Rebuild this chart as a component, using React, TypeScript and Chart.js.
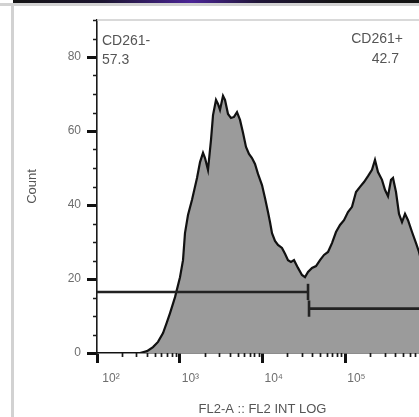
import React, { useEffect, useRef } from 'react';
import { Chart, registerables } from 'chart.js';

Chart.register(...registerables);

// FL2 intensity (x, log scale) and event counts (y)
const fl2Intensity = [
  100, 331, 402, 475, 546, 628, 702, 763, 877, 1007,
  1095, 1157, 1258, 1407, 1616, 1758, 1911, 2020, 2194, 2386,
  2524, 2742, 2899, 3065, 3333, 3523, 3830, 4163, 4525, 4920,
  5348, 5813, 6318, 6867, 7465, 8115, 8820, 9863, 10720, 11650,
  12320, 13030, 14160, 15390, 17200, 18710, 20340, 22090, 24040, 26850,
  30000, 32640, 35490, 39650, 44340, 49540, 55350, 61890, 69150, 77270,
  86440, 96560, 107900, 120700, 134900, 150700, 168500, 188300, 210400, 228700,
  248700, 278000, 302100, 328500, 357300, 377600, 410500, 446400, 485300, 527600,
  573500, 641200, 716500, 778700, 871000, 1000000,
];
const cellCounts = [
  0, 0, 0.5, 1.6, 3.0, 5.4, 8.4, 10.8, 15.1, 20.5,
  25.1, 32.4, 37.3, 41.4, 47.3, 51.6, 54.1, 52.7, 49.5, 57.6,
  64.3, 68.4, 67.3, 65.7, 69.5, 68.4, 64.6, 63.5, 63.8, 65.1,
  63.0, 59.5, 55.7, 53.8, 52.7, 51.1, 48.4, 45.4, 41.9, 38.1,
  35.4, 32.4, 30.3, 29.2, 28.4, 26.8, 25.1, 24.6, 25.1, 23.0,
  21.1, 20.5, 21.9, 23.0, 23.5, 25.1, 26.5, 27.3, 29.7, 32.7,
  34.6, 35.9, 38.1, 39.5, 43.5, 44.9, 46.2, 47.8, 49.5, 52.2,
  48.9, 46.8, 44.1, 42.4, 46.8, 47.3, 43.5, 37.6, 35.4, 37.6,
  35.9, 32.7, 29.7, 27.3, 23.0, 18.0,
];

// gates
const gateNames = ['CD261-', 'CD261+'];
const gatePercents = ['57.3', '42.7'];
const gateNegRange = [100, 35500];
const gateNegLevel = 16.5;
const gatePosRange = [36500, 1000000];
const gatePosLevel = 12.0;
const gateEndHalf = 2.2;

// axes
const xMin = 100;
const xMax = 1000000;
const xTickValues = [100, 1000, 10000, 100000, 1000000];
const xTickLabels = [' 10²', '10³', '10⁴', '10⁵', '10⁶'];
const xMinorMultipliers = [2, 3, 4, 5, 6, 7, 8, 9];
const yMin = 0;
const yMax = 90;
const yTickValues = [0, 20, 40, 60, 80];
const yMinorTicks = [5, 10, 15, 25, 30, 35, 45, 50, 55, 65, 70, 75, 85, 90];
const xTitle = 'FL2-A :: FL2 INT LOG';
const yTitle = 'Count';

const FONT = "'Liberation Sans', Arial, sans-serif";

const decorPlugin = {
  id: 'decor',
  beforeDatasetsDraw(chart: any) {
    const { ctx, chartArea: a } = chart;
    ctx.save();
    ctx.strokeStyle = '#cdcdcd';
    ctx.lineWidth = 1.5;
    ctx.beginPath();
    ctx.moveTo(a.left, a.top);
    ctx.lineTo(a.right, a.top);
    ctx.lineTo(a.right, a.bottom);
    ctx.stroke();
    ctx.restore();
  },
  afterDraw(chart: any) {
    const { ctx, chartArea: a, scales } = chart;
    const xs = scales.x;
    const ys = scales.y;
    ctx.save();
    ctx.strokeStyle = '#1a1a1a';
    ctx.lineWidth = 1.7;
    ctx.beginPath();
    for (const v of yMinorTicks) {
      const py = Math.round(ys.getPixelForValue(v)) + 0.5;
      ctx.moveTo(a.left - 4, py);
      ctx.lineTo(a.left, py);
    }
    const decades = xTickValues.slice(0, -1);
    for (const d of decades) {
      for (const m of xMinorMultipliers) {
        const px = Math.round(xs.getPixelForValue(d * m)) + 0.5;
        ctx.moveTo(px, a.bottom);
        ctx.lineTo(px, a.bottom + 4);
      }
    }
    ctx.stroke();

    ctx.fillStyle = '#555';
    ctx.font = `14px ${FONT}`;
    ctx.textBaseline = 'middle';
    ctx.textAlign = 'left';
    ctx.fillText(gateNames[0], a.left + 5, a.top + 21);
    ctx.fillText(gatePercents[0], a.left + 5, a.top + 40);
    ctx.textAlign = 'right';
    ctx.fillText(gateNames[1], a.right - 25, a.top + 19);
    ctx.fillText(gatePercents[1], a.right - 29, a.top + 39);
    ctx.restore();
  },
};

export default function App() {
  const canvasRef = useRef<HTMLCanvasElement | null>(null);

  useEffect(() => {
    const canvas = canvasRef.current;
    if (!canvas) return;
    const histogram = fl2Intensity.map((x, i) => ({ x, y: cellCounts[i] }));
    const gateStyle = {
      borderColor: '#222',
      borderWidth: 2.6,
      pointRadius: 0,
      fill: false,
      order: 1,
    };
    const chart = new Chart(canvas, {
      type: 'line',
      data: {
        datasets: [
          {
            label: 'Count',
            data: histogram,
            borderColor: '#111',
            borderWidth: 2.2,
            backgroundColor: '#9b9b9b',
            fill: 'origin',
            pointRadius: 0,
            tension: 0,
            order: 2,
          },
          {
            ...gateStyle,
            label: gateNames[0],
            data: [
              { x: gateNegRange[0], y: gateNegLevel },
              { x: gateNegRange[1], y: gateNegLevel },
            ],
          },
          {
            ...gateStyle,
            label: gateNames[0] + ' end',
            data: [
              { x: gateNegRange[1], y: gateNegLevel - gateEndHalf },
              { x: gateNegRange[1], y: gateNegLevel + gateEndHalf },
            ],
          },
          {
            ...gateStyle,
            label: gateNames[1],
            data: [
              { x: gatePosRange[0], y: gatePosLevel },
              { x: gatePosRange[1], y: gatePosLevel },
            ],
          },
          {
            ...gateStyle,
            label: gateNames[1] + ' start',
            data: [
              { x: gatePosRange[0], y: gatePosLevel - gateEndHalf },
              { x: gatePosRange[0], y: gatePosLevel + gateEndHalf },
            ],
          },
        ],
      },
      options: {
        responsive: false,
        animation: false,
        events: [],
        layout: { padding: { left: 0, top: 20, right: 22, bottom: 0 } },
        plugins: {
          legend: { display: false },
          tooltip: { enabled: false },
        },
        scales: {
          x: {
            type: 'logarithmic',
            position: 'bottom',
            min: xMin,
            max: xMax,
            afterBuildTicks: (scale: any) => {
              scale.ticks = xTickValues.map((value) => ({ value, major: true }));
            },
            afterFit: (scale: any) => {
              scale.height = 64;
              scale.paddingLeft = 0;
              scale.paddingRight = 0;
            },
            grid: {
              drawOnChartArea: false,
              drawTicks: true,
              tickLength: 10,
              tickWidth: 3,
              tickColor: '#111',
            },
            border: { display: true, color: '#1a1a1a', width: 1.6 },
            ticks: {
              autoSkip: false,
              maxRotation: 0,
              align: 'start',
              labelOffset: 2,
              padding: 8,
              color: '#6e6e6e',
              font: { family: FONT, size: 12 },
              callback: (value: any) => {
                const i = xTickValues.indexOf(Number(value));
                return i >= 0 ? xTickLabels[i] : '';
              },
            },
            title: {
              display: true,
              text: xTitle,
              color: '#555',
              font: { family: FONT, size: 13 },
              padding: { top: 0, bottom: 0 },
            },
          },
          y: {
            type: 'linear',
            position: 'left',
            min: yMin,
            max: yMax,
            afterBuildTicks: (scale: any) => {
              scale.ticks = yTickValues.map((value) => ({ value }));
            },
            afterFit: (scale: any) => {
              scale.width = 97;
              scale.paddingTop = 0;
              scale.paddingBottom = 0;
            },
            grid: {
              drawOnChartArea: false,
              drawTicks: true,
              tickLength: 10,
              tickWidth: 3,
              tickColor: '#111',
            },
            border: { display: true, color: '#1a1a1a', width: 1.6 },
            ticks: {
              padding: 6,
              color: '#6e6e6e',
              font: { family: FONT, size: 12 },
              callback: (value: any) => String(value),
            },
            title: {
              display: true,
              text: yTitle,
              color: '#555',
              font: { family: FONT, size: 13 },
              padding: { top: 25, bottom: 0 },
            },
          },
        },
      },
      plugins: [decorPlugin],
    } as any);
    return () => chart.destroy();
  }, []);

  return (
    <div
      style={{
        position: 'fixed',
        left: 0,
        top: 0,
        width: 419,
        height: 417,
        overflow: 'hidden',
        background: '#ffffff',
      }}
    >
      <canvas
        ref={canvasRef}
        width={450}
        height={417}
        style={{ position: 'absolute', left: 0, top: 0, width: 450, height: 417 }}
      />
      <div style={{ position: 'absolute', left: 0, top: 3, width: 419, height: 3, background: '#d2d2d2' }} />
      <div
        style={{
          position: 'absolute',
          left: 13,
          top: 0,
          width: 406,
          height: 3,
          background:
            'linear-gradient(90deg, #141414 0%, #1c1530 22%, #4b2596 44%, #21163a 60%, #151515 80%, #141414 100%)',
        }}
      />
      <div style={{ position: 'absolute', left: 11, top: 3, width: 3, height: 414, background: '#d2d2d2' }} />
    </div>
  );
}
